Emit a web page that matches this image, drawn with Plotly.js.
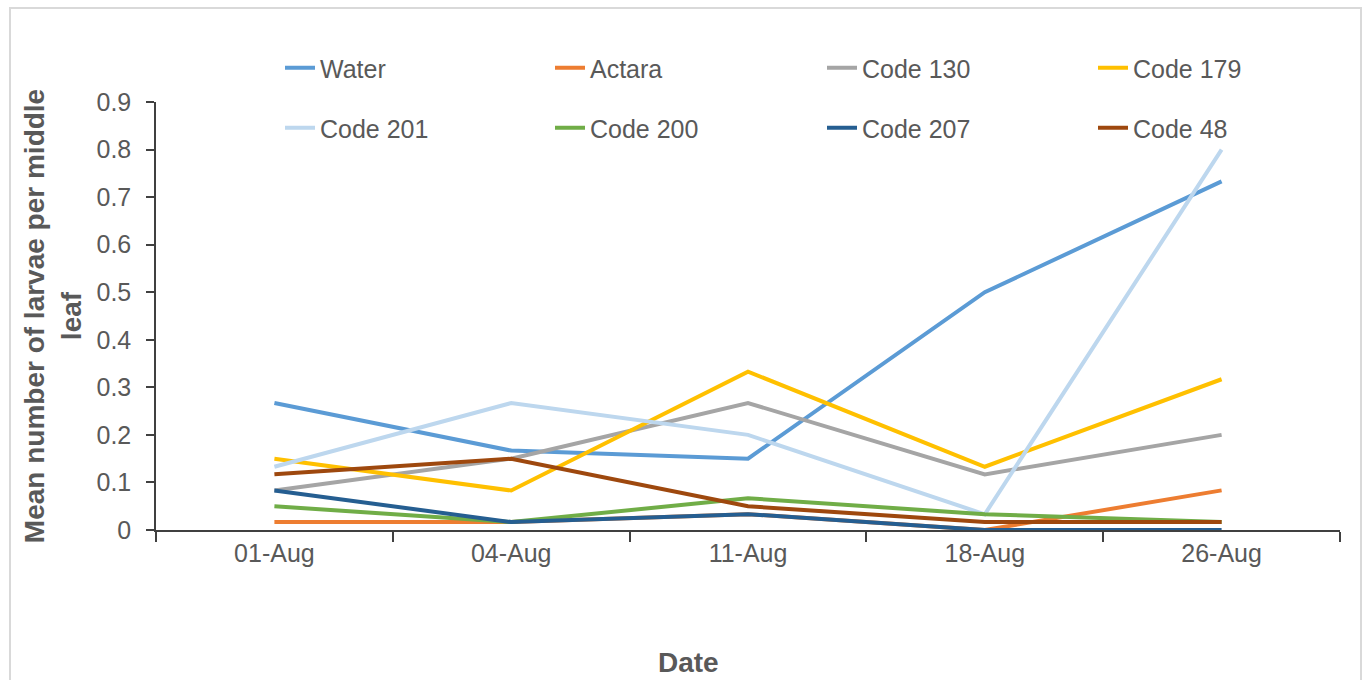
<!DOCTYPE html>
<html>
<head>
<meta charset="utf-8">
<script src="https://cdn.plot.ly/plotly-3.0.1.min.js"></script>
<style>html,body{margin:0;padding:0;background:#fff;}#chart{width:1367px;height:680px;}</style>
</head>
<body>
<div id="chart"></div>
<script>
const dates = ["01-Aug", "04-Aug", "11-Aug", "18-Aug", "26-Aug"];
const water   = [0.267, 0.167, 0.15, 0.5, 0.733];
const actara  = [0.0167, 0.0167, 0.0333, 0, 0.0833];
const code130 = [0.083, 0.15, 0.267, 0.117, 0.2];
const code179 = [0.15, 0.083, 0.333, 0.133, 0.317];
const code201 = [0.133, 0.267, 0.2, 0.033, 0.8];
const code200 = [0.05, 0.0167, 0.0667, 0.0333, 0.0167];
const code207 = [0.083, 0.0167, 0.0333, 0, 0];
const code48  = [0.117, 0.15, 0.05, 0.0167, 0.0167];
const seriesNames = ["Water", "Actara", "Code 130", "Code 179", "Code 201", "Code 200", "Code 207", "Code 48"];
const seriesValues = [water, actara, code130, code179, code201, code200, code207, code48];
const colors = ["#5B9BD5", "#ED7D31", "#A5A5A5", "#FFC000", "#BDD7EE", "#70AD47", "#255E91", "#9E480E"];

const txt = "#595959";
const fontFam = "Liberation Sans, Arial, sans-serif";

// plot area in pixels
const L = 156, R = 27, T = 102, B = 150, W = 1367, H = 680;
const pw = W - L - R, ph = H - T - B;
const px2x = p => (p - L) / pw;
const py2y = p => (H - B - p) / ph;

// legend text start positions (px) per column and row centres
const legTextX = [320, 590, 862, 1133];
const legRowY = [68, 128];

const traces = seriesNames.map((n, i) => ({
  type: "scatter", mode: "lines", name: n, x: dates, y: seriesValues[i],
  line: {color: colors[i], width: 4},
  legend: i === 0 ? "legend" : "legend" + (i + 1)
}));

const layout = {
  width: W, height: H,
  margin: {l: L, r: R, t: T, b: B},
  paper_bgcolor: "#fff", plot_bgcolor: "#fff",
  font: {family: fontFam, color: txt},
  showlegend: true,
  xaxis: {
    type: "category", tickson: "boundaries", ticks: "outside", ticklen: 10,
    tickcolor: "#404040", tickwidth: 1.5, showline: true, linecolor: "#404040", linewidth: 1.5,
    showgrid: false, zeroline: false, tickfont: {size: 25, color: txt, family: fontFam},
    range: [-0.5, 4.5]
  },
  yaxis: {
    range: [0, 0.9], dtick: 0.1, ticks: "outside", ticklen: 8, ticklabelstandoff: 10,
    tickcolor: "#404040", tickwidth: 1.5, showline: true, linecolor: "#404040", linewidth: 1.5,
    showgrid: false, zeroline: false, tickfont: {size: 25, color: txt, family: fontFam},
    title: {text: "<b>Mean number of larvae per middle<br>leaf</b>", font: {size: 28, color: txt, family: fontFam}, standoff: 7}
  },
  annotations: [{
    text: "<b>Date</b>", xref: "paper", yref: "paper",
    x: px2x(688), y: py2y(662), xanchor: "center", yanchor: "middle",
    showarrow: false, font: {size: 28, color: txt, family: fontFam}
  }],
  shapes: [{
    type: "rect", xref: "paper", yref: "paper",
    x0: px2x(10), x1: px2x(1361), y0: py2y(700), y1: py2y(8),
    line: {color: "#D9D9D9", width: 2}, fillcolor: "rgba(0,0,0,0)", layer: "below"
  }]
};

seriesNames.forEach((n, i) => {
  const key = i === 0 ? "legend" : "legend" + (i + 1);
  layout[key] = {
    orientation: "h", xanchor: "left", yanchor: "middle",
    x: px2x(legTextX[i % 4] - 40), y: py2y(legRowY[Math.floor(i / 4)]),
    font: {family: fontFam, size: 25, color: txt}, bgcolor: "rgba(0,0,0,0)", borderwidth: 0
  };
});

Plotly.newPlot("chart", traces, layout, {displayModeBar: false, responsive: false});
</script>
</body>
</html>
